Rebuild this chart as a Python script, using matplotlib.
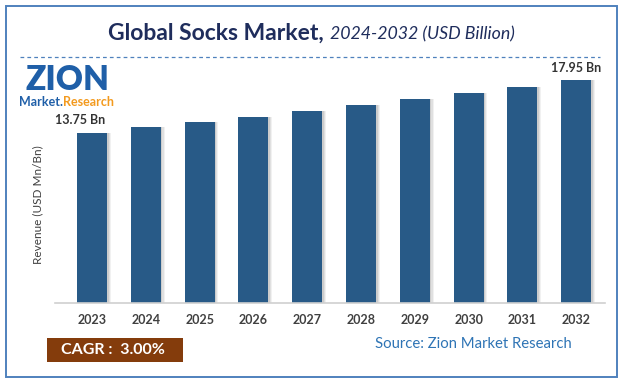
import matplotlib.pyplot as plt
from matplotlib.patches import Rectangle
from matplotlib.lines import Line2D

years = ['2023', '2024', '2025', '2026', '2027', '2028', '2029', '2030', '2031', '2032']
revenue = [13.75, 14.19, 14.60, 15.03, 15.48, 15.96, 16.45, 16.93, 17.42, 17.95]
label_text = {0: '13.75 Bn', 9: '17.95 Bn'}

plt.rcParams['font.family'] = ['Lato', 'DejaVu Sans']

fig = plt.figure(figsize=(6.23, 3.83), dpi=100)
W, H = 623, 383

def fx(px):
    return px / W

def fy(py):
    return 1 - py / H

# outer border
fig.patches.append(Rectangle((fx(6), fy(377)), fx(611), 371 / H, transform=fig.transFigure,
                             fill=False, edgecolor='#4F81BD', linewidth=1.4))

ax = fig.add_axes([fx(55), fy(303), fx(550), (303 - 60) / H])
x = list(range(len(years)))

# soft shadow to the right of each bar
for off, a in [(0.07, 0.10), (0.05, 0.15), (0.03, 0.2)]:
    ax.bar([i + off for i in x], revenue, width=0.56, color='#7f7f7f', alpha=a, zorder=1)
ax.bar(x, revenue, width=0.56, color='#285A87', zorder=2)

ax.set_xlim(-0.688, 9.535)
ax.set_ylim(0, 19.6)
ax.set_xticks(x)
ax.set_xticklabels(years, fontsize=9, fontweight='bold', color='#404040')
ax.tick_params(axis='x', length=0, pad=8)
ax.set_yticks([])
for s in ['top', 'right', 'left']:
    ax.spines[s].set_visible(False)
ax.spines['bottom'].set_color('#d0d0d0')
ax.spines['bottom'].set_linewidth(1.2)

ax.text(-0.22, revenue[0] + 0.55, label_text[0], ha='center', va='bottom',
        fontsize=9, fontweight='bold', color='#333333')
ax.text(9, revenue[9] + 0.55, label_text[9], ha='center', va='bottom',
        fontsize=9, fontweight='bold', color='#333333')

fig.text(fx(38), fy(205), 'Revenue (USD Mn/Bn)', rotation=90, ha='center', va='center',
         fontsize=8.5, color='#404040')

# title
fig.text(fx(324), fy(33), 'Global Socks Market,', ha='right', va='center',
         fontsize=16.5, fontweight='bold', color='#1F2D5C')
fig.text(fx(330), fy(34), '2024-2032 (USD Billion)', ha='left', va='center',
         fontsize=12.8, style='italic', color='#1F2D5C')

# dashed separator
fig.lines.append(Line2D([fx(20), fx(600)], [fy(57), fy(57)], transform=fig.transFigure,
                        color='#4F81BD', linestyle=(0, (3, 2.5)), linewidth=0.9))

# logo text
fig.text(fx(67), fy(80), 'ZION', ha='center', va='center', fontsize=24,
         fontweight='heavy', color='#1F5FA8')
fig.text(fx(19), fy(102), 'Market.', ha='left', va='center', fontsize=9,
         fontweight='bold', color='#1F5FA8')
fig.text(fx(63), fy(102), 'Research', ha='left', va='center', fontsize=9,
         fontweight='bold', color='#F39A1E')

# CAGR box
fig.patches.append(Rectangle((fx(47), fy(362)), fx(136), 24 / H, transform=fig.transFigure,
                             facecolor='#843C0C', edgecolor='none'))
fig.text(fx(61), fy(350), 'CAGR :  3.00%', ha='left', va='center', fontsize=11.5,
         fontweight='bold', color='white')

fig.text(fx(375), fy(344), 'Source: Zion Market Research', ha='left', va='center',
         fontsize=10.7, color='#2E74B5')

fig.savefig('out.png', dpi=100)
